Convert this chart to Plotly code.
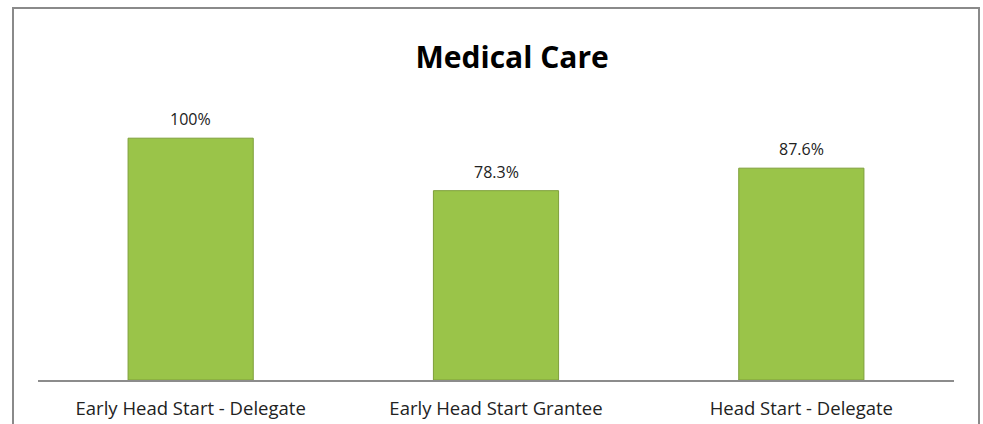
import plotly.graph_objects as go

categories = ["Early Head Start - Delegate", "Early Head Start Grantee", "Head Start - Delegate"]
values = [100, 78.3, 87.6]
value_labels = ["100%", "78.3%", "87.6%"]
title_text = "Medical Care"

W, H = 983, 424
L, R, T, B = 38, 29, 114, 44
fig = go.Figure()
fig.add_trace(go.Bar(
    x=categories, y=values,
    marker=dict(color="#9AC449", line=dict(color="#7E9F3A", width=1)),
    width=0.41, hoverinfo="x+y",
))
annotations = [dict(x=c, y=v, text=t, showarrow=False, yanchor="middle", yshift=19,
                    font=dict(family="Open Sans", size=16, color="#222222"))
               for c, v, t in zip(categories, values, value_labels)]
fig.update_layout(
    width=W, height=H,
    margin=dict(l=L, r=R, t=T, b=B, autoexpand=False),
    paper_bgcolor="white", plot_bgcolor="white",
    showlegend=False,
    annotations=annotations,
    title=dict(text="<b>" + title_text + "</b>", x=0.521, xanchor="center",
               y=1 - 57 / H, yanchor="middle",
               font=dict(family="Open Sans", size=30, color="#000000")),
    xaxis=dict(showline=True, linecolor="#8C8C8C", linewidth=1.5, ticks="",
               automargin=False, ticklabelstandoff=11,
               tickfont=dict(family="Open Sans", size=18.5, color="#222222"),
               showgrid=False, zeroline=False),
    yaxis=dict(range=[0, 110], visible=False, showgrid=False, zeroline=False,
               automargin=False),
    shapes=[dict(type="rect", xref="paper", yref="paper",
                 x0=(13 - L) / (W - L - R), x1=(979 - L) / (W - L - R),
                 y0=(-80 - B) / (H - T - B), y1=(H - 8 - B) / (H - T - B),
                 line=dict(color="#8A8A8A", width=2), layer="below")],
)
fig.write_html("out.html", config={"displayModeBar": False},
               post_script="document.body.style.margin='0';document.body.style.overflow='hidden';")
